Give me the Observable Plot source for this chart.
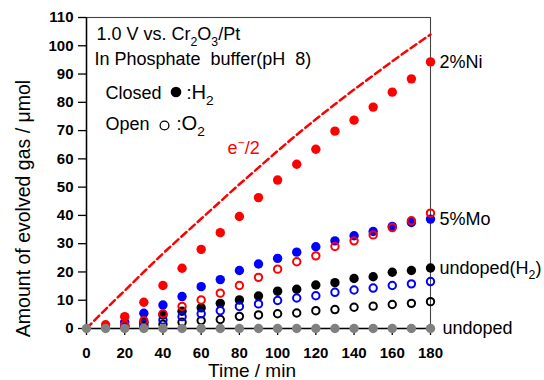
<!DOCTYPE html>
<html><head><meta charset="utf-8">
<script src="https://cdn.jsdelivr.net/npm/d3@7"></script>
<script src="https://cdn.jsdelivr.net/npm/@observablehq/plot@0.6"></script>
<style>
body{margin:0;background:#fff}
svg{font-family:"Liberation Sans",Arial,sans-serif}
</style>
</head><body><div id="chart"></div>
<script>
const time   = [0,10,20,30,40,50,60,70,80,90,100,110,120,130,140,150,160,170,180];
const ni_h2  = [null,1.3,4.2,9.3,15.2,21.3,28.0,33.9,39.6,46.3,52.5,58.1,63.4,69.8,73.7,78.3,83.6,88.3,94.3];
const ni_o2  = [null,null,1.2,2.8,5.2,7.8,10.1,12.5,15.2,18.1,21.0,23.6,25.7,29.0,31.0,33.1,35.7,38.1,40.8];
const mo_h2  = [null,null,2.3,5.4,8.3,11.3,14.8,17.3,20.5,22.8,24.8,27.0,28.9,31.0,32.8,34.3,36.1,37.5,38.7];
const mo_o2  = [null,null,0.8,1.7,3.0,4.2,5.2,6.3,7.8,8.7,9.9,10.8,11.6,12.8,13.6,14.3,15.2,15.8,16.6];
const un_h2  = [null,null,0.8,2.2,4.8,6.1,7.3,8.9,10.1,11.5,13.2,13.9,15.4,16.2,17.7,18.3,19.9,20.5,21.4];
const un_o2  = [null,null,null,0.8,1.5,2.2,2.8,3.2,4.3,4.8,5.2,5.5,6.3,6.7,7.5,7.9,8.5,8.9,9.5];
const undoped= [0,0,0,0,0,0,0,0,0,0,0,0,0,0,0,0,0,0,0];
const e_half = [0,6.8,13.4,20.0,26.5,32.7,38.8,44.9,51.0,56.9,62.8,68.5,74.0,79.3,84.5,89.5,94.5,99.3,104.0];

const xTicks = [0,20,40,60,80,100,120,140,160,180];
const yTicks = [0,10,20,30,40,50,60,70,80,90,100,110];
const xTitle = "Time / min";
const yTitle = "Amount of evolved gas / μmol";
const notes = ["1.0 V vs. Cr_2O_3/Pt", "In Phosphate\u00a0 buffer(pH\u00a0 8)", "Closed", ":~H_2", "Open", ":~O_2"];
const eLabel = "e^−/2";
const endLabels = ["2%Ni", "5%Mo", "undoped(H_2)", "undoped"];

function rowsOf(vals){ const r=[]; vals.forEach((v,i)=>{ if(v!=null) r.push({t:time[i], v}); }); return r; }
const last = a => a[a.length-1];
const endsMain = [
  {label:endLabels[0], v:last(ni_h2)},
  {label:endLabels[1], v:last(mo_h2)},
  {label:endLabels[2], v:last(un_h2)}
];
const endsBase = [{label:endLabels[3], v:last(undoped)}];

const filled = (vals, color) => Plot.dot(rowsOf(vals), {x:"t", y:"v", r:4.7, fill:color, stroke:"none"});
const open = (vals, color) => Plot.dot(rowsOf(vals), {x:"t", y:"v", r:3.7, fill:"none", stroke:color, strokeWidth:2});

const noteMark = (txt, dx, dy, extra={}) => Plot.text([txt], {text:d=>d, frameAnchor:"top-left", textAnchor:"start", lineAnchor:"middle", dx, dy, fontSize:18, fill:"#000", className:"rich", ...extra});

const chart = Plot.plot({
  width:544, height:380,
  marginLeft:86, marginRight:114, marginTop:17, marginBottom:52,
  x:{domain:[0,180]}, y:{domain:[0,110]},
  style:{fontFamily:"Liberation Sans, Arial, sans-serif", background:"#fff", color:"#000", overflow:"visible"},
  marks:[
    Plot.frame({stroke:"#444", strokeWidth:1.1}),
    Plot.ruleX([0], {stroke:"#000", strokeWidth:1.5}),
    Plot.ruleY([0], {stroke:"#000", strokeWidth:1.5}),
    Plot.axisX({ticks:xTicks, tickSize:7, tickPadding:12, fontSize:15, fontWeight:"bold", label:null, stroke:"#000", strokeWidth:1.3, tickFormat:d=>String(d)}),
    Plot.axisY({ticks:yTicks, tickSize:8, tickPadding:5, fontSize:15, fontWeight:"bold", label:null, stroke:"#000", strokeWidth:1.3, tickFormat:d=>String(d)}),
    Plot.line(rowsOf(e_half), {x:"t", y:"v", stroke:"#ff0000", strokeWidth:2.5, strokeDasharray:"7,4", curve:"natural"}),
    open(un_o2, "#000"),
    filled(un_h2, "#000"),
    open(mo_o2, "#0000ff"),
    filled(mo_h2, "#0000ff"),
    open(ni_o2, "#ff0000"),
    filled(ni_h2, "#ff0000"),
    filled(undoped, "#808080"),
    Plot.text(endsMain, {x:()=>180, y:"v", text:"label", dx:9, textAnchor:"start", lineAnchor:"middle", fontSize:18, fill:"#000", className:"rich"}),
    Plot.text(endsBase, {x:()=>180, y:"v", text:"label", dx:12, textAnchor:"start", lineAnchor:"middle", fontSize:18, fill:"#000"}),
    noteMark(notes[0], 10, 17),
    noteMark(notes[1], 8, 41.5),
    noteMark(notes[2], 19, 76),
    Plot.dot([0], {frameAnchor:"top-left", dx:89.5, dy:74.5, r:5.3, fill:"#000", stroke:"none"}),
    noteMark(notes[3], 100, 76),
    noteMark(notes[4], 19, 107),
    Plot.dot([0], {frameAnchor:"top-left", dx:78, dy:108, r:4.4, fill:"none", stroke:"#000", strokeWidth:1.3}),
    noteMark(notes[5], 90, 107),
    noteMark(eLabel, 141, 131, {fill:"#ff0000"}),
    Plot.text([yTitle], {text:d=>d, frameAnchor:"left", textAnchor:"middle", lineAnchor:"middle", dx:-63, dy:35.5, rotate:-90, fontSize:19.5, fill:"#000"}),
    Plot.text([xTitle], {text:d=>d, frameAnchor:"bottom", textAnchor:"middle", lineAnchor:"middle", dx:-6.5, dy:42.5, fontSize:19, fill:"#000"})
  ]
});
document.getElementById("chart").appendChild(chart);

// rich text: _x subscript, ^x superscript, ~ switches to larger font
d3.select(chart).selectAll("g.rich text").each(function(){
  const el = this;
  const s = el.textContent;
  const base = parseFloat(getComputedStyle(el).fontSize) || 18;
  const tokens = [];
  let i = 0;
  while (i < s.length) {
    const c = s[i];
    if (c === "_" || c === "^") { tokens.push({text:s[i+1], mode:c}); i += 2; }
    else if (c === "~") { tokens.push({mode:"~"}); i += 1; }
    else { let j = i; while (j < s.length && !"_^~".includes(s[j])) j++; tokens.push({text:s.slice(i,j), mode:""}); i = j; }
  }
  el.textContent = "";
  let cur = 0, big = false;
  for (const tk of tokens) {
    if (tk.mode === "~") { big = true; continue; }
    const size = big ? base * 1.12 : base;
    const target = tk.mode === "_" ? size*0.3 : tk.mode === "^" ? -size*0.42 : 0;
    const ts = d3.select(el).append("tspan").text(tk.text).attr("dy", (target - cur) + "px");
    const fs = tk.mode ? size*0.68 : size;
    ts.attr("font-size", fs + "px");
    cur = target;
  }
});
</script>
</body></html>
